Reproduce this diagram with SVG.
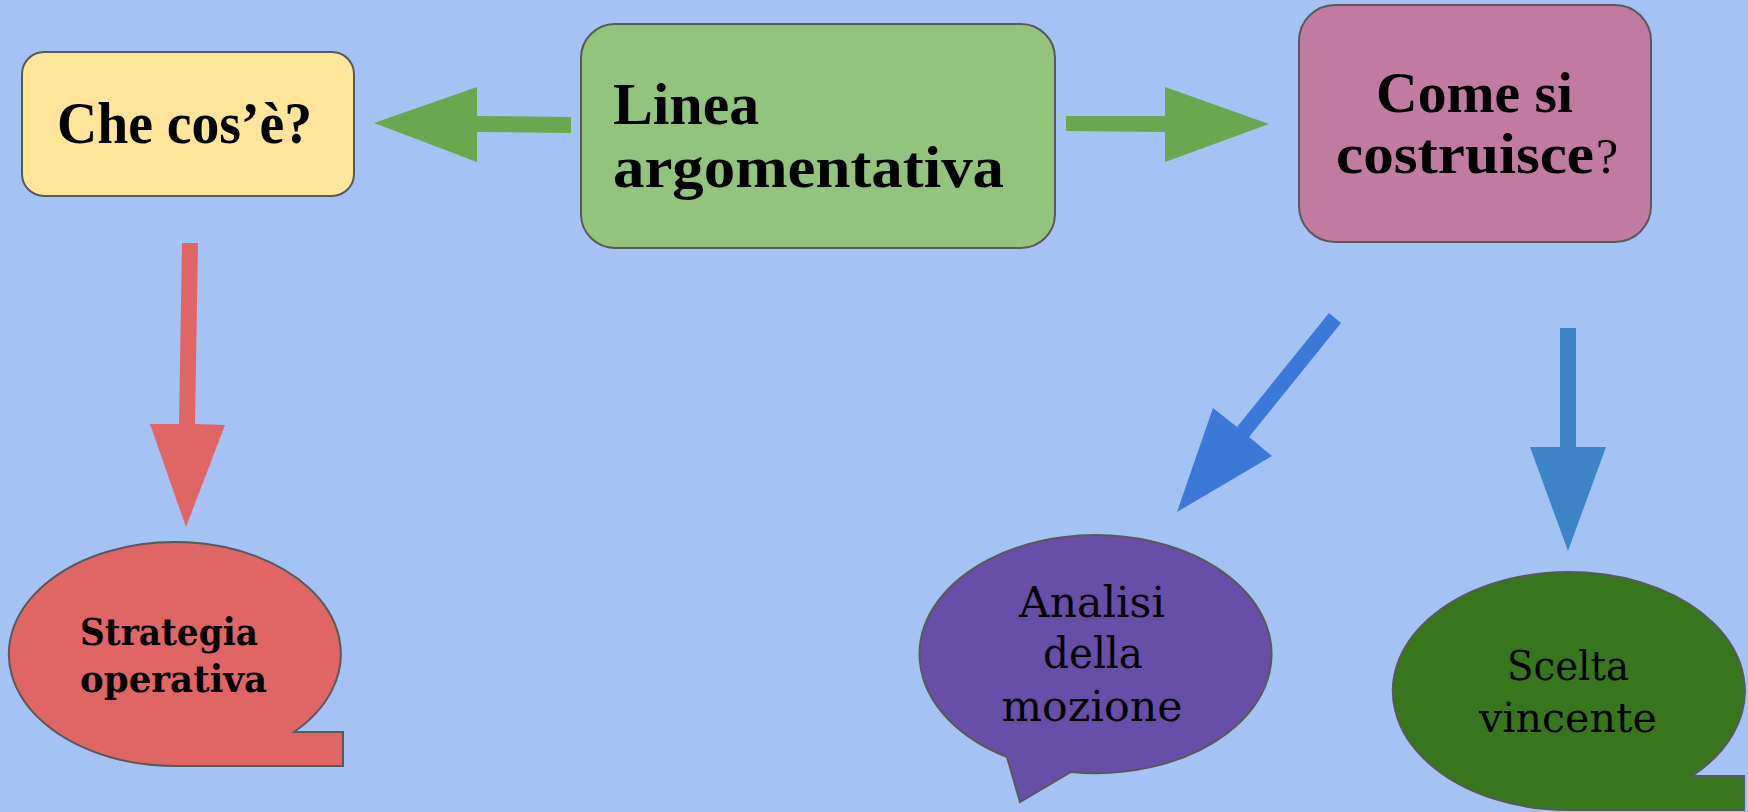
<svg xmlns="http://www.w3.org/2000/svg" width="1748" height="812" viewBox="0 0 1748 812">
<style>
.box{stroke:#595959;stroke-width:2}
.head{font-family:"Liberation Serif","DejaVu Serif",serif;font-weight:bold;fill:#000}
.bub{font-family:"DejaVu Serif","Liberation Serif",serif;fill:#000}
</style>
<rect width="1748" height="812" fill="#a4c2f4"/>
<g id="connectors">
<polygon fill="#6aa84f" points="571,117 477,116 477,87 374,123 477,162 477,132 571,133"/>
<polygon fill="#6aa84f" points="1066,116 1165,116 1165,87 1269,124 1165,162 1165,132 1066,131"/>
<polygon fill="#e06666" points="182,243 198,243 195,424 225,425 186,527 150,424 179,424"/>
<polygon fill="#3c78d8" points="1329,313 1341,323 1249,437 1272,456 1177,512 1213,408 1237,427"/>
<polygon fill="#3d85c6" points="1560,328 1576,328 1576,447 1606,447 1568,551 1530,447 1560,447"/>
</g>
<g id="node-checose">
<rect class="box" x="22" y="52" width="332" height="144" rx="22" fill="#ffe599"/>
<text class="head" x="57" y="143" font-size="60" textLength="255" lengthAdjust="spacingAndGlyphs">Che cos’è?</text>
</g>
<g id="node-linea">
<rect class="box" x="581" y="24" width="474" height="224" rx="34" fill="#93c47d"/>
<text class="head" x="613" y="124" font-size="60" textLength="146" lengthAdjust="spacingAndGlyphs">Linea</text>
<text class="head" x="613" y="187" font-size="60" textLength="391" lengthAdjust="spacingAndGlyphs">argomentativa</text>
</g>
<g id="node-come">
<rect class="box" x="1299" y="5" width="352" height="237" rx="36" fill="#c27ba0"/>
<text class="head" x="1376" y="112" font-size="58" textLength="197" lengthAdjust="spacingAndGlyphs">Come si</text>
<text class="head" x="1336" y="173" font-size="58" textLength="258" lengthAdjust="spacingAndGlyphs">costruisce</text>
<text class="head" x="1596" y="173" font-size="50" style="font-weight:normal">?</text>
</g>
<g id="node-strategia">
<path class="box" fill="#e06666" d="M294,732 L343,732 L343,766 L177.5,766 A166 112 0 1 1 294,732 Z"/>
<text class="bub" x="80" y="645" font-size="38" font-weight="bold" textLength="178" lengthAdjust="spacingAndGlyphs">Strategia</text>
<text class="bub" x="80" y="692" font-size="38" font-weight="bold" textLength="187" lengthAdjust="spacingAndGlyphs">operativa</text>
</g>
<g id="node-analisi">
<path class="box" fill="#674ea7" d="M1007,757 A176 119 0 1 1 1071,772 L1020,802 Z"/>
<text class="bub" x="1092" y="617" font-size="42" text-anchor="middle" textLength="146" lengthAdjust="spacingAndGlyphs">Analisi</text>
<text class="bub" x="1093" y="668" font-size="42" text-anchor="middle" textLength="100" lengthAdjust="spacingAndGlyphs">della</text>
<text class="bub" x="1092" y="721" font-size="42" text-anchor="middle" textLength="181" lengthAdjust="spacingAndGlyphs">mozione</text>
</g>
<g id="node-scelta">
<path class="box" fill="#38761d" d="M1692,776 L1744,776 L1744,810 L1568,810 A176 119 0 1 1 1692,776 Z"/>
<text class="bub" x="1568" y="680" font-size="41" text-anchor="middle" textLength="122" lengthAdjust="spacingAndGlyphs">Scelta</text>
<text class="bub" x="1568" y="732" font-size="41" text-anchor="middle" textLength="178" lengthAdjust="spacingAndGlyphs">vincente</text>
</g>
</svg>
